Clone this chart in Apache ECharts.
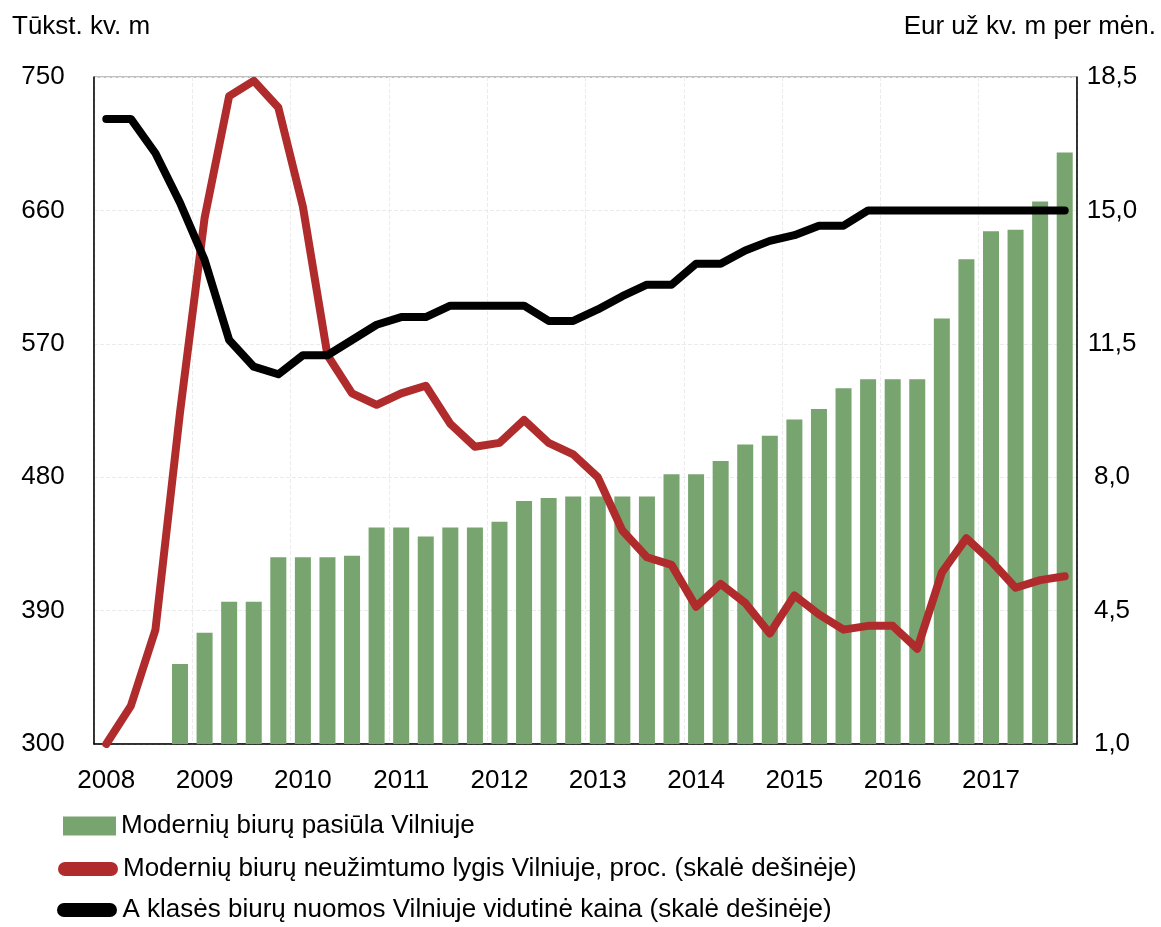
<!DOCTYPE html>
<html>
<head>
<meta charset="utf-8">
<script src="https://cdn.jsdelivr.net/npm/echarts@6/dist/echarts.min.js"></script>
<style>
  html, body { margin: 0; padding: 0; background: #fff; }
  #chart { width: 1161px; height: 927px; }
</style>
</head>
<body>
<div id="chart"></div>
<script>
// quarterly, 2008 K1 .. 2017 K4
const quarters = [
  '2008 K1', '2008 K2', '2008 K3', '2008 K4',
  '2009 K1', '2009 K2', '2009 K3', '2009 K4',
  '2010 K1', '2010 K2', '2010 K3', '2010 K4',
  '2011 K1', '2011 K2', '2011 K3', '2011 K4',
  '2012 K1', '2012 K2', '2012 K3', '2012 K4',
  '2013 K1', '2013 K2', '2013 K3', '2013 K4',
  '2014 K1', '2014 K2', '2014 K3', '2014 K4',
  '2015 K1', '2015 K2', '2015 K3', '2015 K4',
  '2016 K1', '2016 K2', '2016 K3', '2016 K4',
  '2017 K1', '2017 K2', '2017 K3', '2017 K4'
];

// tūkst. kv. m (left)
const supply = [
  null, null, null, 354, 375, 396, 396, 426, 426, 426,
  427, 446, 446, 440, 446, 446, 450, 464, 466, 467,
  467, 467, 467, 482, 482, 491, 502, 508, 519, 526,
  540, 546, 546, 546, 587, 627, 646, 647, 666, 699
];

// proc. (right)
const vacancy = [
  1.0, 2.0, 4.0, 9.7, 14.8, 18.0, 18.4, 17.7, 15.1, 11.2,
  10.2, 9.9, 10.2, 10.4, 9.4, 8.8, 8.9, 9.5, 8.9, 8.6,
  8.0, 6.6, 5.9, 5.7, 4.6, 5.2, 4.7, 3.9, 4.9, 4.4,
  4.0, 4.1, 4.1, 3.5, 5.5, 6.4, 5.8, 5.1, 5.3, 5.4
];

// Eur už kv. m per mėn. (right)
const price = [
  17.4, 17.4, 16.5, 15.2, 13.7, 11.6, 10.9, 10.7, 11.2, 11.2,
  11.6, 12.0, 12.2, 12.2, 12.5, 12.5, 12.5, 12.5, 12.1, 12.1,
  12.4, 12.75, 13.05, 13.05, 13.6, 13.6, 13.95, 14.2, 14.35, 14.6,
  14.6, 15.0, 15.0, 15.0, 15.0, 15.0, 15.0, 15.0, 15.0, 15.0
];

const names = [
  'Modernių biurų pasiūla Vilniuje',
  'Modernių biurų neužimtumo lygis Vilniuje, proc. (skalė dešinėje)',
  'A klasės biurų nuomos Vilniuje vidutinė kaina (skalė dešinėje)'
];

const font = "'Liberation Sans Narrow', 'Arial Narrow', 'Liberation Sans', Arial, sans-serif";
const fs = 26;
const green = '#77a46f';
const red = '#b02c2c';
const pill = 'path://M7,0H53A7,7 0 0 1 53,14H7A7,7 0 0 1 7,0Z';
const gridColor = '#ebebeb';

const chart = echarts.init(document.getElementById('chart'));

const legendBase = {
  orient: 'horizontal',
  padding: 0,
  itemGap: 0,
  selectedMode: false,
  textStyle: { color: '#000', fontSize: fs, fontFamily: font, lineHeight: 30 }
};

chart.setOption({
  animation: false,
  backgroundColor: '#fff',
  textStyle: { fontFamily: font },
  title: [
    { text: 'Tūkst. kv. m', left: 7, top: 9,
      textStyle: { fontSize: fs, fontWeight: 'normal', color: '#000', fontFamily: font } },
    { text: 'Eur už kv. m per mėn.', right: 0, top: 9,
      textStyle: { fontSize: fs, fontWeight: 'normal', color: '#000', fontFamily: font } }
  ],
  legend: [
    Object.assign({}, legendBase, { top: 811, left: 63, itemWidth: 53, itemHeight: 19,
      data: [{ name: names[0], icon: 'rect' }] }),
    Object.assign({}, legendBase, { top: 854, left: 58, itemWidth: 60, itemHeight: 14,
      data: [{ name: names[1], icon: pill }] }),
    Object.assign({}, legendBase, { top: 895, left: 57, itemWidth: 61, itemHeight: 14,
      data: [{ name: names[2], icon: pill }] })
  ],
  grid: {
    left: 94, right: 84, top: 77, bottom: 183,
    show: true, borderColor: '#808080', borderWidth: 1
  },
  xAxis: {
    type: 'category',
    data: quarters,
    boundaryGap: true,
    axisLine: { lineStyle: { color: '#000', width: 1.5 } },
    axisTick: { show: false },
    axisLabel: {
      interval: 3,
      color: '#000',
      fontSize: fs,
      fontFamily: font,
      margin: 24,
      formatter: v => v.slice(0, 4)
    },
    splitLine: { show: true, interval: 3, lineStyle: { color: gridColor, type: 'dashed', width: 1 } }
  },
  yAxis: [
    {
      type: 'value',
      min: 300, max: 750, interval: 90,
      axisLine: { show: true, lineStyle: { color: '#000', width: 1.5 } },
      axisTick: { show: false },
      axisLabel: { color: '#000', fontSize: fs, fontFamily: font, margin: 51, align: 'center' },
      splitLine: { show: true, lineStyle: { color: gridColor, type: 'dashed', width: 1 } }
    },
    {
      type: 'value',
      min: 1, max: 18.5, interval: 3.5,
      position: 'right',
      axisLine: { show: true, lineStyle: { color: '#000', width: 1.5 } },
      axisTick: { show: false },
      axisLabel: {
        color: '#000', fontSize: fs, fontFamily: font, margin: 35, align: 'center',
        formatter: v => v.toFixed(1).replace('.', ',')
      },
      splitLine: { show: false }
    }
  ],
  series: [
    {
      name: names[0],
      type: 'bar',
      data: supply,
      yAxisIndex: 0,
      barWidth: 16,
      itemStyle: { color: green },
      z: 2
    },
    {
      name: names[1],
      type: 'line',
      data: vacancy,
      yAxisIndex: 1,
      showSymbol: false,
      symbol: 'none',
      lineStyle: { color: red, width: 8, cap: 'round', join: 'round' },
      itemStyle: { color: red },
      z: 3
    },
    {
      name: names[2],
      type: 'line',
      data: price,
      yAxisIndex: 1,
      showSymbol: false,
      symbol: 'none',
      lineStyle: { color: '#000', width: 8, cap: 'round', join: 'round' },
      itemStyle: { color: '#000' },
      z: 4
    }
  ]
});
</script>
</body>
</html>
